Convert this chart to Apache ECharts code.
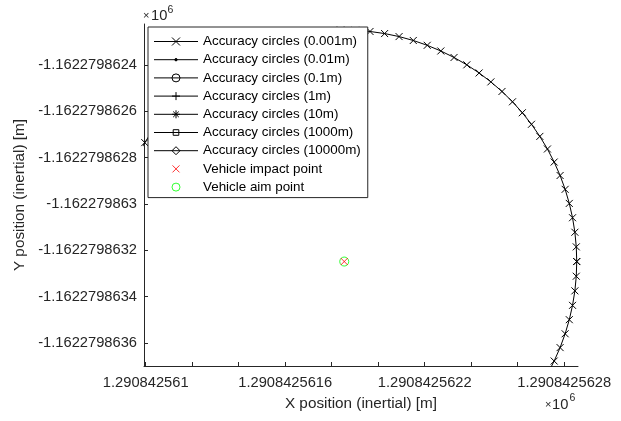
<!DOCTYPE html>
<html>
<head>
<meta charset="utf-8">
<script src="https://cdn.jsdelivr.net/npm/echarts@6/dist/echarts.min.js"></script>
<style>html,body{margin:0;padding:0;background:#fff}#c{width:621px;height:421px}</style>
</head>
<body>
<div id="c"></div>
<script>
// ---------- data ----------
const seriesNames = [
  'Accuracy circles (0.001m)', 'Accuracy circles (0.01m)', 'Accuracy circles (0.1m)',
  'Accuracy circles (1m)', 'Accuracy circles (10m)', 'Accuracy circles (1000m)',
  'Accuracy circles (10000m)', 'Vehicle impact point', 'Vehicle aim point'
];
// visible part of the 0.001 m accuracy circle (points read along the arc, metres)
const circleX = [
  1290842.5627279, 1290842.5627569, 1290842.5627824, 1290842.5628041, 1290842.5628219,
  1290842.5628359, 1290842.5628460, 1290842.5628520, 1290842.5628540, 1290842.5628540,
  1290842.5628520, 1290842.5628460, 1290842.5628359, 1290842.5628219, 1290842.5628041,
  1290842.5627824, 1290842.5627569, 1290842.5627279, 1290842.5626953, 1290842.5626593,
  1290842.5626200, 1290842.5625777, 1290842.5625325, 1290842.5624846, 1290842.5624341,
  1290842.5623812, 1290842.5623263, 1290842.5622694, 1290842.5622109, 1290842.5621509,
  1290842.5620898, 1290842.5620276, 1290842.5619648, 1290842.5619016, 1290842.5618381,
  1290842.5617747, 1290842.5617117, 1290842.5616492, 1290842.5615875, 1290842.5615269,
  1290842.5614677, 1290842.5614099, 1290842.5613540, 1290842.5613001, 1290842.5612484,
  1290842.5611991, 1290842.5611525, 1290842.5611087, 1290842.5610679, 1290842.5610303,
  1290842.5609960, 1290842.5609652
];
const circleY = [
  -1162279.8637352, -1162279.8636788, -1162279.8636207, -1162279.8635610, -1162279.8635001,
  -1162279.8634383, -1162279.8633756, -1162279.8633124, -1162279.8632490, -1162279.8632490,
  -1162279.8631856, -1162279.8631224, -1162279.8630597, -1162279.8629979, -1162279.8629370,
  -1162279.8628773, -1162279.8628192, -1162279.8627628, -1162279.8627084, -1162279.8626561,
  -1162279.8626062, -1162279.8625589, -1162279.8625144, -1162279.8624729, -1162279.8624344,
  -1162279.8623993, -1162279.8623675, -1162279.8623394, -1162279.8623149, -1162279.8622941,
  -1162279.8622772, -1162279.8622642, -1162279.8622552, -1162279.8622501, -1162279.8622491,
  -1162279.8622521, -1162279.8622592, -1162279.8622702, -1162279.8622852, -1162279.8623040,
  -1162279.8623266, -1162279.8623530, -1162279.8623830, -1162279.8624164, -1162279.8624532,
  -1162279.8624932, -1162279.8625363, -1162279.8625822, -1162279.8626308, -1162279.8626819,
  -1162279.8627353, -1162279.8627908
];
const impactX = [1290842.561854];
const impactY = [-1162279.863249];
const aimX = [1290842.561854];
const aimY = [-1162279.863249];

const xTickValues = [1290842.561, 1290842.5612, 1290842.5614, 1290842.5616, 1290842.5618,
  1290842.562, 1290842.5622, 1290842.5624, 1290842.5626, 1290842.5628];
const xTickLabels = ['1.290842561', '', '', '1.2908425616', '', '', '1.2908425622', '', '', '1.2908425628'];
const yTickValues = [-1162279.8624, -1162279.8626, -1162279.8628, -1162279.863,
  -1162279.8632, -1162279.8634, -1162279.8636];
const yTickLabels = ['-1.1622798624', '-1.1622798626', '-1.1622798628', '-1.162279863',
  '-1.1622798632', '-1.1622798634', '-1.1622798636'];

// ---------- chart ----------
const FONT = '"Liberation Sans", Arial, Helvetica, sans-serif';
const AX = '#262626';
function pair(xs, ys) { return xs.map((x, i) => [x, ys[i]]); }
function labelFor(values, labels) {
  return function (v) {
    let best = 0, bd = Infinity;
    values.forEach((t, i) => { const d = Math.abs(t - v); if (d < bd) { bd = d; best = i; } });
    return labels[best];
  };
}
const xLabelValues = xTickValues.filter((v, i) => xTickLabels[i] !== '');

const SYM = {
  cross: 'path://M0 0L10 10M10 0L0 10',
  dot: 'path://M0 0M10 10M3.5 5A1.5 1.5 0 1 1 6.5 5A1.5 1.5 0 1 1 3.5 5Z',
  circle: 'path://M10 5A5 5 0 1 1 0 5A5 5 0 1 1 10 5Z',
  plus: 'path://M5 0L5 10M0 5L10 5',
  star: 'path://M5 0L5 10M0 5L10 5M1.5 1.5L8.5 8.5M8.5 1.5L1.5 8.5',
  square: 'path://M0 0M10 10M1.5 1.5L8.5 1.5L8.5 8.5L1.5 8.5Z',
  diamond: 'path://M5 0L10 5L5 10L0 5Z',
  redX: 'path://M0 0M10 10M1.5 1.5L8.5 8.5M8.5 1.5L1.5 8.5',
  greenO: 'path://M0 0M10 10M9 5A4 4 0 1 1 1 5A4 4 0 1 1 9 5Z'
};
const circleSymbols = [SYM.cross, SYM.dot, SYM.circle, SYM.plus, SYM.star, SYM.square, SYM.diamond];
const hollow = [false, false, true, false, false, true, true];

const series = circleSymbols.map((s, i) => ({
  type: 'line',
  name: seriesNames[i],
  data: i === 0 ? pair(circleX, circleY) : [],
  symbol: s,
  symbolSize: 7,
  showSymbol: true,
  showAllSymbol: true,
  clip: true,
  lineStyle: { color: '#000', width: 1 },
  itemStyle: { color: hollow[i] ? 'rgba(0,0,0,0)' : '#000', borderColor: '#000', borderWidth: 1 },
  emphasis: { disabled: true },
  z: 2
}));
series.push({
  type: 'scatter', name: seriesNames[7], data: pair(impactX, impactY),
  symbol: SYM.cross, symbolSize: 7,
  itemStyle: { color: 'rgba(0,0,0,0)', borderColor: '#ff0000', borderWidth: 1 },
  emphasis: { disabled: true }, z: 4
});
series.push({
  type: 'scatter', name: seriesNames[8], data: pair(aimX, aimY),
  symbol: 'circle', symbolSize: 9,
  itemStyle: { color: 'rgba(0,0,0,0)', borderColor: '#00ff00', borderWidth: 1 },
  emphasis: { disabled: true }, z: 3
});

// exponent labels ("×10^6") as small title components
function ttl(left, top, s, size) {
  return { text: s, left: left, top: top, padding: 0, itemGap: 0,
    textStyle: { fontFamily: FONT, fontSize: size, fontWeight: 'normal', color: AX } };
}

const chart = echarts.init(document.getElementById('c'), null, { renderer: 'canvas' });
chart.setOption({
  animation: false,
  backgroundColor: '#fff',
  title: [
    ttl(143, 10.5, '×', 11), ttl(151, 8.6, '10', 14.7), ttl(167.5, 4.5, '6', 10.5),
    ttl(545, 399.5, '×', 11), ttl(552, 397.6, '10', 14.7), ttl(569.5, 392.5, '6', 10.5)
  ],
  grid: { left: 144, top: 24, width: 434, height: 342, containLabel: false },
  xAxis: {
    type: 'value',
    min: 1290842.5609927, max: 1290842.5628594,
    name: 'X position (inertial) [m]', nameLocation: 'middle', nameGap: 30,
    nameTextStyle: { fontFamily: FONT, fontSize: 15.3, color: AX },
    axisLine: { onZero: false, lineStyle: { color: AX, width: 1 } },
    axisTick: { inside: true, length: 4, customValues: xTickValues, lineStyle: { color: AX } },
    axisLabel: { customValues: xLabelValues, formatter: labelFor(xTickValues, xTickLabels),
      fontFamily: FONT, fontSize: 14.7, color: AX, margin: 9 },
    splitLine: { show: false }
  },
  yAxis: {
    type: 'value',
    min: -1162279.8637002, max: -1162279.8622229,
    name: 'Y position (inertial) [m]', nameLocation: 'middle', nameGap: 114, nameRotate: 90,
    nameTextStyle: { fontFamily: FONT, fontSize: 15.3, color: AX },
    axisLine: { onZero: false, lineStyle: { color: AX, width: 1 } },
    axisTick: { inside: true, length: 4, customValues: yTickValues, lineStyle: { color: AX } },
    axisLabel: { customValues: yTickValues, formatter: labelFor(yTickValues, yTickLabels),
      fontFamily: FONT, fontSize: 14.7, color: AX, margin: 7 },
    splitLine: { show: false }
  },
  legend: {
    orient: 'vertical', left: 148, top: 27,
    padding: [8, 7, 4, 5.5], itemGap: 5.2, itemWidth: 44, itemHeight: 10,
    backgroundColor: '#fff', borderColor: AX, borderWidth: 1, borderRadius: 0,
    selectedMode: false,
    textStyle: { fontFamily: FONT, fontSize: 13.4, color: '#000' },
    itemStyle: { borderWidth: 1 },
    lineStyle: { width: 1 },
    data: [
      { name: seriesNames[0] }, { name: seriesNames[1] }, { name: seriesNames[2] },
      { name: seriesNames[3] }, { name: seriesNames[4] }, { name: seriesNames[5] },
      { name: seriesNames[6] },
      { name: seriesNames[7], icon: SYM.redX },
      { name: seriesNames[8], icon: SYM.greenO }
    ]
  },
  series: series
});
</script>
</body>
</html>
